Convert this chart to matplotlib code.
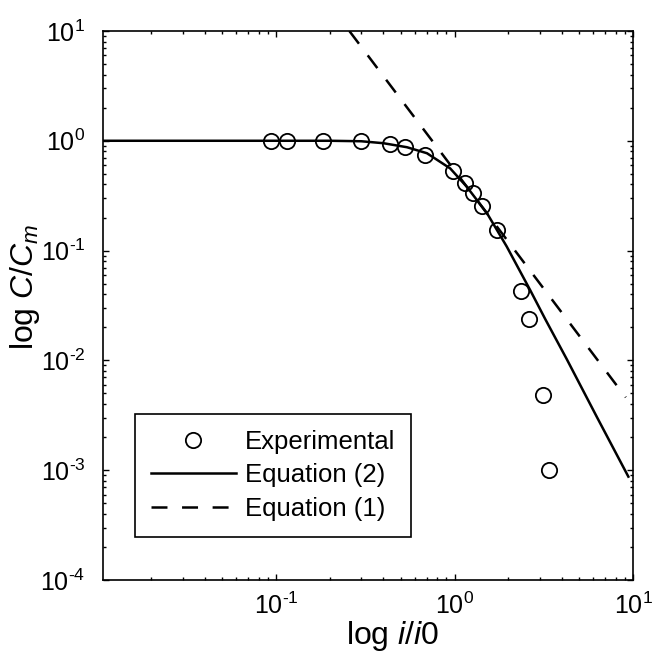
import numpy as np
import matplotlib
matplotlib.use("Agg")
import matplotlib.pyplot as plt
from matplotlib.ticker import FuncFormatter

# experimental points
x_exp = [0.094, 0.116, 0.183, 0.301, 0.436, 0.526, 0.681, 0.987, 1.148, 1.267, 1.42, 1.74, 2.36, 2.63, 3.14, 3.37]
y_exp = [1.0, 1.0, 1.0, 1.0, 0.94, 0.88, 0.74, 0.534, 0.41, 0.337, 0.255, 0.154, 0.043, 0.024, 0.0048, 0.001]

# Equation (2)
x_eq2 = [0.0108, 0.1, 0.2, 0.30, 0.40, 0.542, 0.701, 0.946, 1.17, 1.52, 1.96, 2.65, 3.22, 4.26, 6.27, 9.41]
y_eq2 = [1.0, 1.0, 1.0, 0.99, 0.95, 0.873, 0.77, 0.56, 0.382, 0.219, 0.109, 0.0438, 0.0238, 0.0102, 0.00305, 0.000873]

# Equation (1), straight line on log-log axes
x_eq1 = [0.2576, 9.1]
y_eq1 = [10.0, 0.0046]

plt.rcParams["font.family"] = ["Liberation Sans", "DejaVu Sans"]
plt.rcParams["mathtext.fontset"] = "custom"
plt.rcParams["mathtext.rm"] = "Liberation Sans"
plt.rcParams["mathtext.it"] = "Liberation Sans:italic"
plt.rcParams["axes.unicode_minus"] = False
plt.rcParams["lines.scale_dashes"] = False


def pow10(v, pos):
	e = int(round(np.log10(v)))
	s = str(e).replace("-", "\u2010")
	return r"$\mathdefault{10^{%s}}$" % s


def main():
	fig = plt.figure(figsize=(6.54, 6.56), dpi=100)
	ax = fig.add_axes([0.158, 0.1159, 0.810, 0.8369])

	ax.plot(x_eq2, y_eq2, color="black", lw=1.8, label="Equation (2)", zorder=2)
	ax.plot(x_eq1, y_eq1, color="black", lw=1.8, dashes=(11.5, 10.5), label="Equation (1)", zorder=2)
	ax.plot(x_exp, y_exp, ls="none", marker="o", ms=11, mfc="none", mec="black", mew=1.3,
			label="Experimental", zorder=3)

	ax.set_xscale("log")
	ax.set_yscale("log")
	ax.set_xlim(0.0108, 10)
	ax.set_ylim(1e-4, 10)
	ax.xaxis.set_major_formatter(FuncFormatter(pow10))
	ax.yaxis.set_major_formatter(FuncFormatter(pow10))

	ax.tick_params(which="both", direction="in", top=True, right=True, labelsize=18, width=1.0)
	ax.tick_params(which="major", length=4.5)
	ax.tick_params(which="minor", length=2.5)
	ax.tick_params(axis="x", pad=9)
	ax.tick_params(axis="y", pad=13)
	for s in ax.spines.values():
		s.set_linewidth(1.2)

	ax.set_xlabel(r"log $\mathit{i/i0}$", fontsize=23)
	ax.set_ylabel(r"log $\mathit{C/C_m}$", fontsize=23)
	ax.xaxis.set_label_coords(0.547, -0.072)
	ax.yaxis.set_label_coords(-0.116, 0.534)

	h, l = ax.get_legend_handles_labels()
	order = [2, 0, 1]
	leg = ax.legend([h[i] for i in order], [l[i] for i in order], loc="lower left",
					bbox_to_anchor=(0.06, 0.078), borderaxespad=0, fontsize=18.5,
					handlelength=3.3, handletextpad=0.35, borderpad=0.62, labelspacing=0.38,
					fancybox=False, framealpha=1, edgecolor="black")
	leg.get_frame().set_linewidth(1.2)

	fig.savefig("out.png", dpi=100)
	plt.close()


if __name__ == "__main__":
	main()
